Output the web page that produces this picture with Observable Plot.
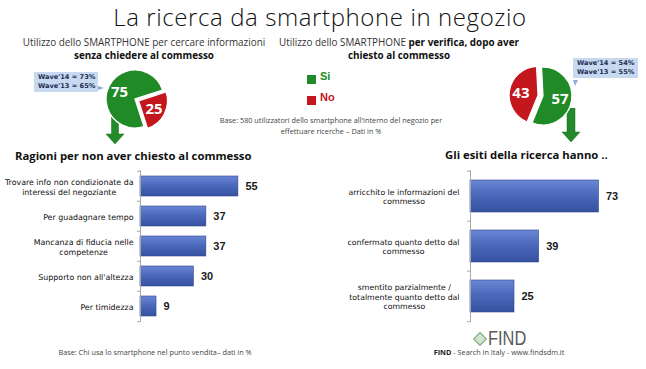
<!DOCTYPE html>
<html><head><meta charset="utf-8">
<script src="https://cdn.jsdelivr.net/npm/d3@7"></script>
<script src="https://cdn.jsdelivr.net/npm/@observablehq/plot@0.6"></script>
<style>
html,body{margin:0;padding:0;background:#fff;}
#root{position:relative;width:646px;height:369px;overflow:hidden;font-family:"Open Sans",sans-serif;color:#222;background:#fff;}
.abs{position:absolute;white-space:nowrap;}
.ctr{transform:translateX(-50%);text-align:center;}
.title{font-size:24px;line-height:30px;font-weight:300;color:#111;letter-spacing:0.6px;}
.sub{font-size:9.9px;color:#333;line-height:13px;}
.sub b{font-weight:700;color:#111;}
.wave{background:#c6d9f0;font-family:"DejaVu Sans",sans-serif;font-weight:700;font-size:6.6px;line-height:9px;color:#1d2b4f;padding:1px 4px;box-sizing:border-box;}
.base{font-size:7.3px;color:#444;line-height:11px;}
.leg{font-family:"Liberation Sans",sans-serif;font-weight:700;font-size:11px;}
.sw{width:9px;height:9px;}
.btitle{font-weight:700;font-size:11.3px;color:#111;}
</style></head><body>
<svg width="0" height="0" style="position:absolute">
  <defs>
    <linearGradient id="barGrad" x1="0" y1="0" x2="0" y2="1">
      <stop offset="0" stop-color="#6a86d4"/>
      <stop offset="0.45" stop-color="#4c69bd"/>
      <stop offset="1" stop-color="#36519f"/>
    </linearGradient>
  </defs>
</svg>
<div id="root"></div>
<script>
// ---------- data ----------
const pieSeries = ["Si", "No"];
const pieColors = ["#1f8a26", "#c3161d"];
const pieLeftValues = [75, 25];
const pieRightValues = [57, 43];
const waveLeft = ["Wave'14 = 73%", "Wave'13 = 65%"];
const waveRight = ["Wave'14 = 54%", "Wave'13 = 55%"];

const reasonCats = [
  "Trovare info non condizionate da\ninteressi del negoziante",
  "Per guadagnare tempo",
  "Mancanza di fiducia nelle\ncompetenze",
  "Supporto non all'altezza",
  "Per timidezza"
];
const reasonValues = [55, 37, 37, 30, 9];

const outcomeCats = [
  "arricchito le informazioni del\ncommesso",
  "confermato quanto detto dal\ncommesso",
  "smentito parzialmente /\ntotalmente quanto detto dal\ncommesso"
];
const outcomeValues = [73, 39, 25];

// ---------- helpers ----------
const root = document.getElementById("root");
function place(node, left, top) {
  node.style.position = "absolute";
  node.style.left = left + "px";
  node.style.top = top + "px";
  root.appendChild(node);
  return node;
}
function html(str, left, top, cls) {
  const d = document.createElement("div");
  d.className = "abs " + (cls || "");
  d.innerHTML = str;
  return place(d, left, top);
}

// ---------- texts ----------
html("La ricerca da smartphone in negozio", 320, 2, "title ctr");
html("Utilizzo dello SMARTPHONE per cercare informazioni<br><b>senza chiedere al commesso</b>", 144, 36, "sub ctr");
html("Utilizzo dello SMARTPHONE <b>per verifica, dopo aver</b><br><b>chiesto al commesso</b>", 399, 36, "sub ctr");
html("Base: 580 utilizzatori dello smartphone all'interno del negozio per<br>effettuare ricerche – Dati in %", 331, 115, "base ctr");
html("Base: Chi usa lo smartphone nel punto vendita– dati in %", 155, 347, "base ctr");
html("<b style='color:#222'>FIND</b> - Search in Italy - www.findsdm.it", 499, 347, "base ctr");
(function(){
  const f = html("FIND", 488, 330, "");
  f.style.cssText += "font-family:'Liberation Sans',sans-serif;font-size:20px;line-height:16px;color:#5a5a5a;transform:scaleX(0.82);transform-origin:0 0;";
  const s = d3.create("svg").attr("width", 16).attr("height", 16);
  s.append("rect").attr("x", 3.5).attr("y", 3.5).attr("width", 9).attr("height", 9)
    .attr("transform", "rotate(45 8 8)").attr("fill", "#cfe3cf").attr("stroke", "#7fae84").attr("stroke-width", 1.2);
  place(s.node(), 472, 331);
})();

// legend
pieSeries.forEach((s, i) => {
  const sw = document.createElement("div");
  sw.className = "abs sw";
  sw.style.background = pieColors[i];
  place(sw, 307, 75 + i * 21);
  html(s, 320, 70 + i * 21, "leg").style.color = pieColors[i];
});

// wave boxes
html(waveLeft.join("<br>"), 34, 72, "wave").style.width = "64px";
html(waveRight.join("<br>"), 573, 58, "wave").style.width = "65px";
(function(){
  const s1 = d3.create("svg").attr("width", 8).attr("height", 8);
  s1.append("path").attr("d", "M0,2 L6,4 L0,6Z").attr("fill", "#8eaed6");
  place(s1.node(), 98, 84);
  const s2 = d3.create("svg").attr("width", 8).attr("height", 8);
  s2.append("path").attr("d", "M1,0 L6,0 L3,6Z").attr("fill", "#8eaed6");
  place(s2.node(), 572, 80);
})();

// green arrows
function greenArrow(x, top, shaftW, headW, shaftH, headH) {
  const w = headW + 2, h = shaftH + headH + 1;
  const s = d3.create("svg").attr("width", w).attr("height", h);
  const c = w / 2;
  s.append("path")
    .attr("d", `M${c - shaftW / 2},0 H${c + shaftW / 2} V${shaftH} H${c + headW / 2} L${c},${shaftH + headH} L${c - headW / 2},${shaftH} H${c - shaftW / 2}Z`)
    .attr("fill", "#228a2b").attr("stroke", "#1b6e22").attr("stroke-width", 0.5);
  place(s.node(), x - w / 2, top);
}
greenArrow(115, 112, 7, 18, 22, 10);
greenArrow(571, 108, 8, 18, 24, 10);

// ---------- pies ----------
function pie(values, center, r, startDeg, explodeIdx, explode) {
  const k = 1.45;
  const size = Math.round(2 * k * r);
  const data = pieSeries.map((s, i) => ({s, v: values[i]}));
  const arcs = d3.pie().sort(null).value(d => d.v)
    .startAngle(startDeg * Math.PI / 180)
    .endAngle(startDeg * Math.PI / 180 + 2 * Math.PI)(data);
  const pieMark = (index, scales, vals, dims) => {
    const sx = scales && scales.x ? scales.x : (v => size / 2 + v * size / (2 * k));
    const sy = scales && scales.y ? scales.y : (v => size / 2 - v * size / (2 * k));
    const cx = sx(0), cy = sy(0), rad = Math.abs(sx(1) - sx(0));
    const g = d3.create("svg:g");
    const arcGen = d3.arc().innerRadius(0).outerRadius(rad);
    const labGen = d3.arc().innerRadius(rad * 0.6).outerRadius(rad * 0.6);
    arcs.forEach((a, i) => {
      const mid = (a.startAngle + a.endAngle) / 2;
      const off = i === explodeIdx ? explode : 0;
      const ox = cx + Math.sin(mid) * off, oy = cy - Math.cos(mid) * off;
      const gg = g.append("g").attr("transform", `translate(${ox},${oy})`);
      gg.append("path").attr("d", arcGen(a)).attr("fill", pieColors[i])
        .attr("stroke", "#fff").attr("stroke-width", 1.3);
      const [lx, ly] = labGen.centroid(a);
      gg.append("text").attr("x", lx).attr("y", ly).attr("dy", "0.36em")
        .attr("text-anchor", "middle").attr("fill", "#fff")
        .attr("font-family", "Open Sans, sans-serif").attr("font-weight", 700)
        .attr("font-size", 15).text(a.data.v);
    });
    return g.node();
  };
  const p = Plot.plot({
    width: size, height: size, margin: 0,
    x: {domain: [-k, k], axis: null},
    y: {domain: [-k, k], axis: null},
    style: {background: "transparent", overflow: "visible"},
    marks: [Plot.dot([[-k, -k], [k, k]], {x: d => d[0], y: d => d[1], r: 0.01, fill: "none", stroke: "none"}), pieMark]
  });
  place(p, center[0] - size / 2, center[1] - size / 2);
}
pie(pieLeftValues, [135, 99], 29, 162, 1, 4);
pie(pieRightValues, [543, 96], 29, -3, 1, 5);

// ---------- bar charts ----------
function barChart({cats, values, left, top, marginLeft, pxPerUnit, domainMax, height, padIn, tickPad, labelSize}) {
  const data = cats.map((c, i) => ({c, v: values[i]}));
  const rangeW = domainMax * pxPerUnit;
  const marginRight = 30;
  const width = marginLeft + rangeW + marginRight;
  const step = height / cats.length;
  const tickLen = 3 / pxPerUnit;
  const p = Plot.plot({
    width, height, marginLeft, marginRight, marginTop: 0, marginBottom: 0,
    x: {domain: [0, domainMax], axis: null},
    y: {domain: cats, paddingInner: padIn, paddingOuter: padIn / 2, axis: null},
    style: {background: "transparent", overflow: "visible", fontFamily: "DejaVu Sans, sans-serif", fontSize: labelSize + "px", color: "#111"},
    marks: [
      Plot.barX(data, {y: "c", x: "v", fill: "url(#barGrad)", stroke: "#2d4791", strokeWidth: 0.6}),
      Plot.ruleX([0], {stroke: "#a8a8a8"}),
      Plot.ruleY(cats, {y: d => d, x1: -tickLen, x2: 0, dy: -step / 2, stroke: "#a8a8a8"}),
      Plot.ruleY(cats.slice(-1), {y: d => d, x1: -tickLen, x2: 0, dy: step / 2, stroke: "#a8a8a8"}),
      Plot.axisY({tickSize: 0, tickPadding: tickPad, fontSize: labelSize, lineHeight: 1.25, label: null}),
      Plot.text(data, {y: "c", x: "v", text: d => String(d.v), textAnchor: "start", dx: 7,
        fontWeight: "bold", fontSize: 11, fontFamily: "Liberation Sans, sans-serif", fill: "#1a1a1a"})
    ]
  });
  place(p, left - marginLeft, top);
  // center multi-line tick labels as blocks anchored to the axis
  p.querySelectorAll('[aria-label="y-axis tick label"] text').forEach(t => {
    const spans = t.querySelectorAll("tspan");
    if (spans.length < 2) return;
    const w = Math.max(...Array.from(spans).map(s => s.getComputedTextLength()));
    t.setAttribute("text-anchor", "middle");
    const tr = t.getAttribute("transform") || "";
    t.setAttribute("transform", tr + ` translate(${-w / 2},0)`);
  });
  return p;
}
html("Ragioni per non aver chiesto al commesso", 15, 148, "btitle");
html("Gli esiti della ricerca hanno ..", 445, 147, "btitle");

barChart({cats: reasonCats, values: reasonValues, left: 140, top: 170, marginLeft: 140,
  pxPerUnit: 1.78, domainMax: 62, height: 152, padIn: 0.34, tickPad: 7, labelSize: 7.9});
barChart({cats: outcomeCats, values: outcomeValues, left: 470, top: 170, marginLeft: 150,
  pxPerUnit: 1.76, domainMax: 80, height: 152, padIn: 0.37, tickPad: 11, labelSize: 7.8});
</script>
</body></html>
